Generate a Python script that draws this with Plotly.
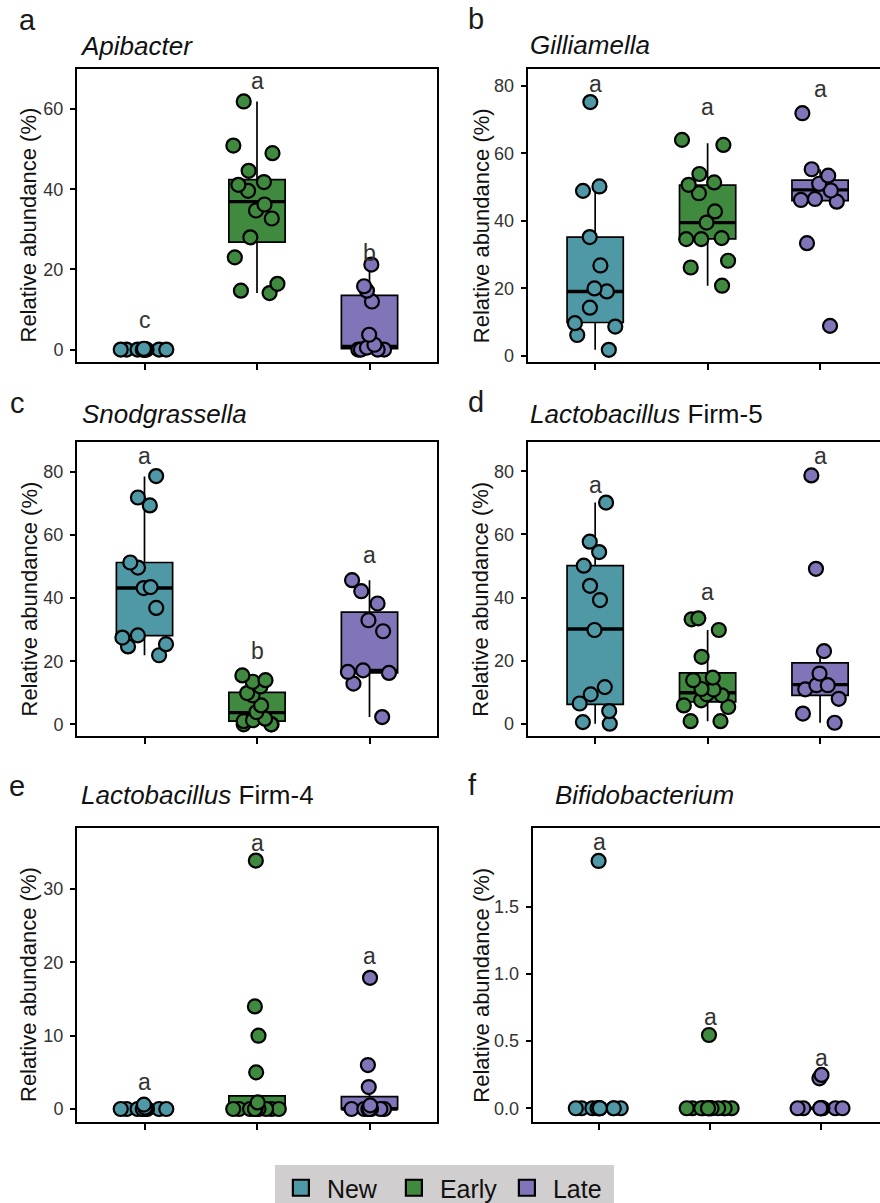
import plotly.graph_objects as go

FONT = "Liberation Sans, Arial, Helvetica, sans-serif"
W, H = 880, 1203

groups = ["New", "Early", "Late"]
group_colors = ["#4f98a5", "#3f8a3f", "#8174b8"]

# ---------------- data ----------------
# a  Apibacter
apibacter_new = [0, 0, 0, 0, 0, 0, 0, 0, 0, 0, 0.1, 0.2]
apibacter_early = [61.9, 50.9, 49.0, 44.6, 41.8, 41.1, 39.6, 36.2, 34.7, 32.7, 28.0, 23.0, 16.4, 14.7, 14.1]
apibacter_late = [21.2, 15.8, 14.7, 12.0, 3.7, 1.2, 0.5, 0, 0, 0, 0]
apibacter_q1 = [0, 26.8, 0.2]
apibacter_median = [0, 36.9, 0.8]
apibacter_q3 = [0, 42.4, 13.5]
apibacter_lower = [0, 14.1, 0]
apibacter_upper = [0, 61.9, 21.0]
apibacter_letters = ["c", "a", "b"]
apibacter_letter_y = [7.5, 66.9, 24.1]

# b  Gilliamella
gilliamella_new = [75.2, 48.9, 50.2, 35.2, 26.8, 20.0, 19.1, 14.3, 9.7, 8.7, 6.2, 1.8]
gilliamella_early = [64.0, 62.5, 53.9, 51.4, 50.7, 48.2, 42.8, 39.5, 34.6, 34.9, 34.6, 28.2, 26.2, 20.8]
gilliamella_late = [71.9, 55.3, 53.4, 51.0, 49.0, 46.2, 46.5, 45.7, 33.4, 8.9]
gilliamella_q1 = [9.9, 34.7, 46.0]
gilliamella_median = [19.1, 39.5, 49.2]
gilliamella_q3 = [35.2, 50.6, 52.1]
gilliamella_lower = [1.8, 20.8, 45.7]
gilliamella_upper = [49.7, 63.0, 55.3]
gilliamella_letters = ["a", "a", "a"]
gilliamella_letter_y = [80.7, 73.7, 79.0]

# c  Snodgrassella
snodgrassella_new = [78.7, 71.9, 69.4, 51.3, 49.7, 43.2, 43.5, 36.9, 28.2, 27.5, 24.7, 25.4, 21.9]
snodgrassella_early = [15.5, 14.0, 13.5, 9.2, 9.9, 12.0, 6.0, 3.9, 1.3, 1.8, 1.0, 0, 0, 0]
snodgrassella_late = [45.7, 42.2, 38.3, 33.0, 29.5, 16.6, 16.3, 17.1, 12.9, 2.3]
snodgrassella_q1 = [28.1, 1.0, 16.3]
snodgrassella_median = [43.2, 3.7, 17.1]
snodgrassella_q3 = [51.3, 10.1, 35.6]
snodgrassella_lower = [21.9, 0, 2.3]
snodgrassella_upper = [78.6, 15.5, 45.7]
snodgrassella_letters = ["a", "b", "a"]
snodgrassella_letter_y = [85.0, 23.1, 53.8]

# d  Lactobacillus Firm-5
firm5_new = [70.1, 57.7, 54.4, 50.1, 43.7, 39.2, 29.7, 11.6, 9.3, 6.4, 4.0, 0.5, 0]
firm5_early = [33.1, 33.4, 29.7, 21.2, 14.6, 13.8, 10.8, 11.0, 9.0, 9.3, 7.4, 5.8, 5.3, 0.8, 0.8]
firm5_late = [78.7, 49.1, 23.0, 15.9, 10.9, 12.2, 12.2, 7.9, 3.2, 0.3]
firm5_q1 = [6.1, 6.9, 9.0]
firm5_median = [30.0, 9.8, 12.4]
firm5_q3 = [50.1, 16.1, 19.3]
firm5_lower = [0, 0.8, 0.3]
firm5_upper = [70.1, 29.7, 22.6]
firm5_letters = ["a", "a", "a"]
firm5_letter_y = [75.8, 41.8, 85.0]

# e  Lactobacillus Firm-4
firm4_new = [0, 0, 0, 0, 0, 0, 0, 0, 0, 0, 0.2, 0.6]
firm4_early = [33.9, 14.0, 10.0, 5.0, 0.9, 0, 0, 0, 0, 0, 0, 0, 0, 0, 0]
firm4_late = [17.9, 6.0, 3.0, 0.5, 0, 0, 0, 0, 0, 0, 0]
firm4_q1 = [0, 0, 0]
firm4_median = [0, 0, 0]
firm4_q3 = [0, 1.8, 1.7]
firm4_lower = [0, 0, 0]
firm4_upper = [0, 0.9, 3.0]
firm4_letters = ["a", "a", "a"]
firm4_letter_y = [3.7, 36.3, 20.9]

# f  Bifidobacterium
bifido_new = [1.84, 0, 0, 0, 0, 0, 0, 0, 0, 0, 0, 0]
bifido_early = [0.545, 0, 0, 0, 0, 0, 0, 0, 0, 0, 0, 0, 0, 0, 0]
bifido_late = [0.248, 0.223, 0, 0, 0, 0, 0, 0, 0, 0, 0]
bifido_q1 = [0, 0, 0]
bifido_median = [0, 0, 0]
bifido_q3 = [0, 0, 0]
bifido_lower = [0, 0, 0]
bifido_upper = [0, 0, 0]
bifido_letters = ["a", "a", "a"]
bifido_letter_y = [1.98, 0.68, 0.377]

ticks_80 = [0, 20, 40, 60, 80]
ticks_60 = [0, 20, 40, 60]
ticks_30 = [0, 10, 20, 30]
ticks_bifido = [0, 0.5, 1.0, 1.5]
ticks_bifido_text = ["0.0", "0.5", "1.0", "1.5"]

panels = [
    dict(tag="a", title="<i>Apibacter</i>",
         pts=[apibacter_new, apibacter_early, apibacter_late],
         q1=apibacter_q1, med=apibacter_median, q3=apibacter_q3, lo=apibacter_lower, hi=apibacter_upper,
         letters=apibacter_letters, ly=apibacter_letter_y, tv=ticks_60, tt=None),
    dict(tag="b", title="<i>Gilliamella</i>",
         pts=[gilliamella_new, gilliamella_early, gilliamella_late],
         q1=gilliamella_q1, med=gilliamella_median, q3=gilliamella_q3, lo=gilliamella_lower, hi=gilliamella_upper,
         letters=gilliamella_letters, ly=gilliamella_letter_y, tv=ticks_80, tt=None),
    dict(tag="c", title="<i>Snodgrassella</i>",
         pts=[snodgrassella_new, snodgrassella_early, snodgrassella_late],
         q1=snodgrassella_q1, med=snodgrassella_median, q3=snodgrassella_q3, lo=snodgrassella_lower, hi=snodgrassella_upper,
         letters=snodgrassella_letters, ly=snodgrassella_letter_y, tv=ticks_80, tt=None),
    dict(tag="d", title="<i>Lactobacillus</i> Firm-5",
         pts=[firm5_new, firm5_early, firm5_late],
         q1=firm5_q1, med=firm5_median, q3=firm5_q3, lo=firm5_lower, hi=firm5_upper,
         letters=firm5_letters, ly=firm5_letter_y, tv=ticks_80, tt=None),
    dict(tag="e", title="<i>Lactobacillus</i> Firm-4",
         pts=[firm4_new, firm4_early, firm4_late],
         q1=firm4_q1, med=firm4_median, q3=firm4_q3, lo=firm4_lower, hi=firm4_upper,
         letters=firm4_letters, ly=firm4_letter_y, tv=ticks_30, tt=None),
    dict(tag="f", title="<i>Bifidobacterium</i>",
         pts=[bifido_new, bifido_early, bifido_late],
         q1=bifido_q1, med=bifido_median, q3=bifido_q3, lo=bifido_lower, hi=bifido_upper,
         letters=bifido_letters, ly=bifido_letter_y, tv=ticks_bifido, tt=ticks_bifido_text),
]

# ---------------- layout geometry (pixels) ----------------
geom = [
    (77, 437, 69, 362, [-0.6, 2.6], [-3.1, 70], False),
    (527.7, 880, 69, 362, [-0.6, 2.533], [-1.8, 85], True),
    (77, 437, 442, 736, [-0.6, 2.6], [-3.7, 89.5], False),
    (527.7, 880, 442, 736, [-0.6, 2.533], [-3.9, 89.3], True),
    (77, 437, 828.3, 1121.7, [-0.6, 2.6], [-1.73, 38.3], False),
    (532.7, 880, 828.3, 1121.7, [-0.6, 2.532], [-0.1, 2.083], True),
]
tag_pos = [(28, 20), (476, 19), (17, 403), (476, 402), (17, 786), (472, 785)]
title_pos = [(78, 46), (528, 45), (80, 414), (528, 414), (79, 795), (553, 795)]
ytitle_off = [49, 46, 48.5, 48, 49, 52]

BOX_COMMON = dict(width=0.5, whiskerwidth=0, hoverinfo="skip", showlegend=False)

fig = go.Figure()
annotations = []
layout_axes = {}

for i, (p, g) in enumerate(zip(panels, geom)):
    n = "" if i == 0 else str(i + 1)
    left, right, top, bottom, xr, yr, rightcol = g
    for j, grp in enumerate(groups):
        axes = dict(xaxis="x" + n, yaxis="y" + n)
        # box body + whiskers
        fig.add_trace(go.Box(
            x=[grp], q1=[p["q1"][j]], median=[p["med"][j]], q3=[p["q3"][j]],
            lowerfence=[p["lo"][j]], upperfence=[p["hi"][j]],
            name=grp, boxpoints=False, fillcolor=group_colors[j],
            line=dict(color="black", width=1.7), **BOX_COMMON, **axes))
        # thick median bar
        fig.add_trace(go.Box(
            x=[grp], q1=[p["med"][j]], median=[p["med"][j]], q3=[p["med"][j]],
            lowerfence=[p["med"][j]], upperfence=[p["med"][j]],
            name=grp, boxpoints=False, fillcolor="rgba(0,0,0,0)",
            line=dict(color="black", width=3.4), **BOX_COMMON, **axes))
        # jittered sample points
        fig.add_trace(go.Box(
            x=[grp], y=[p["pts"][j]],
            q1=[p["q1"][j]], median=[p["med"][j]], q3=[p["q3"][j]],
            lowerfence=[p["lo"][j]], upperfence=[p["hi"][j]],
            name=grp, boxpoints="all", jitter=1.0, pointpos=0,
            fillcolor="rgba(0,0,0,0)", line=dict(color="rgba(0,0,0,0)", width=0),
            marker=dict(color=group_colors[j], size=14, line=dict(color="black", width=2.2)),
            **BOX_COMMON, **axes))
        annotations.append(dict(
            x=grp, y=p["ly"][j], xref="x" + n, yref="y" + n, text=p["letters"][j],
            showarrow=False, xanchor="center", yanchor="middle",
            font=dict(family=FONT, size=23, color="#333333"),
        ))

    layout_axes["xaxis" + n] = dict(
        domain=[left / W, right / W], anchor="y" + n,
        type="category", categoryorder="array", categoryarray=groups,
        range=xr, showticklabels=False, ticks="outside", ticklen=6, tickwidth=1.5,
        tickcolor="black", showline=True, linecolor="black", linewidth=2, mirror=True,
        showgrid=False, zeroline=False, fixedrange=True,
    )
    yax = dict(
        domain=[1 - bottom / H, 1 - top / H], anchor="x" + n,
        range=yr, tickvals=p["tv"], ticks="outside", ticklen=5, tickwidth=1.5,
        tickcolor="black", showline=True, linecolor="black", linewidth=2,
        mirror=(not rightcol), showgrid=False, zeroline=False,
        tickfont=dict(family=FONT, size=18, color="#333333"), ticklabelstandoff=3,
    )
    if p["tt"] is not None:
        yax["ticktext"] = p["tt"]
    layout_axes["yaxis" + n] = yax

    tx, ty = tag_pos[i]
    annotations.append(dict(x=tx / W, y=1 - ty / H, xref="paper", yref="paper", text=p["tag"],
                            showarrow=False, xanchor="center", yanchor="middle",
                            font=dict(family=FONT, size=29, color="#1a1a1a")))
    sx, sy = title_pos[i]
    annotations.append(dict(x=sx / W, y=1 - sy / H, xref="paper", yref="paper", text=p["title"],
                            showarrow=False, xanchor="left", yanchor="middle",
                            font=dict(family=FONT, size=26, color="#111111")))
    annotations.append(dict(x=(left - ytitle_off[i]) / W, y=1 - ((top + bottom) / 2 + 10) / H,
                            xref="paper", yref="paper", text="Relative abundance (%)",
                            textangle=-90, showarrow=False, xanchor="center", yanchor="middle",
                            font=dict(family=FONT, size=22, color="#111111")))

# legend entries
for j, grp in enumerate(groups):
    fig.add_trace(go.Scatter(
        x=[None], y=[None], mode="markers", name=grp, hoverinfo="skip",
        marker=dict(symbol="square", size=20, color=group_colors[j], line=dict(color="black", width=2.2)),
        showlegend=True, xaxis="x", yaxis="y"))

fig.update_layout(
    width=W, height=H,
    margin=dict(l=0, r=0, t=0, b=0, autoexpand=False),
    paper_bgcolor="white", plot_bgcolor="white",
    boxmode="overlay",
    annotations=annotations,
    legend=dict(orientation="h", x=0.505, xanchor="center", y=1 - 1165 / H, yanchor="top",
                bgcolor="#d0cece", font=dict(family=FONT, size=25, color="#111111"),
                itemwidth=42, entrywidth=56, traceorder="normal"),
    **layout_axes,
)

fig.write_html("out.html", config={"displayModeBar": False},
               post_script="document.body.style.margin='0';document.body.style.overflow='hidden';")
